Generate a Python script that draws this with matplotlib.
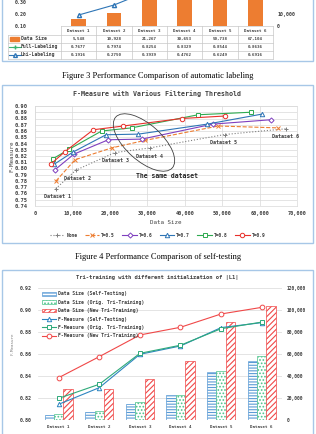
import matplotlib
matplotlib.use('Agg')
import matplotlib.pyplot as plt
from matplotlib.patches import Rectangle, Ellipse, Patch
from matplotlib.lines import Line2D
from matplotlib.ticker import FuncFormatter

plt.rcParams['font.family'] = ['DejaVu Sans Mono']
plt.rcParams['font.weight'] = 'bold'
plt.rcParams['hatch.linewidth'] = 0.8

# ---------------- data ----------------
datasets = ["Dataset 1", "Dataset 2", "Dataset 3", "Dataset 4", "Dataset 5", "Dataset 6"]

# Figure 3 (automatic labeling)
data_size = [5548, 10928, 21267, 30653, 50738, 67104]
full_labeling = [0.7677, 0.7974, 0.8254, 0.8329, 0.8544, 0.8636]
uni_labeling = [0.1916, 0.2750, 0.3939, 0.4762, 0.6249, 0.6916]

# Figure 4 (filtering threshold)
thr_labels = ["None", "T=0.5", "T=0.6", "T=0.7", "T=0.8", "T=0.9"]
none_x = [5548, 10928, 21267, 30653, 50738, 67104]
none_y = [0.7677, 0.7974, 0.8254, 0.8329, 0.8544, 0.8636]
t05_x = [5600, 10700, 20500, 29400, 49000, 64800]
t05_y = [0.780, 0.814, 0.833, 0.845, 0.868, 0.865]
t06_x = [5340, 10400, 19600, 28500, 47500, 63000]
t06_y = [0.798, 0.823, 0.846, 0.847, 0.871, 0.878]
t07_x = [5170, 10070, 18970, 27600, 46000, 60600]
t07_y = [0.807, 0.826, 0.854, 0.855, 0.871, 0.887]
t08_x = [4900, 9170, 17800, 25800, 43600, 57600]
t08_y = [0.816, 0.831, 0.860, 0.865, 0.886, 0.890]
t09_x = [4200, 8000, 15580, 23600, 39200, 50800]
t09_y = [0.807, 0.827, 0.862, 0.868, 0.880, 0.884]

# Figure 5 (tri-training)
size_self = [4600, 7700, 14500, 23000, 43600, 53200]
size_orig = [5500, 8600, 16000, 23000, 44500, 57800]
size_new = [28300, 28300, 36900, 53700, 89400, 103900]
f_self = [0.8143, 0.8294, 0.8597, 0.8673, 0.8840, 0.8885]
f_orig = [0.8197, 0.8325, 0.8606, 0.8680, 0.8830, 0.8890]
f_new = [0.8385, 0.8576, 0.8773, 0.8843, 0.8964, 0.9024]

# ---------------- figure ----------------
W, H = 316, 434
fig = plt.figure(figsize=(W / 100, H / 100), dpi=100)


def px_axes(x0, y0, x1, y1):
    return fig.add_axes([x0 / W, 1 - y1 / H, (x1 - x0) / W, (y1 - y0) / H])


thousands = FuncFormatter(lambda v, p: f"{int(round(v)):,}")
two_dec = FuncFormatter(lambda v, p: f"{v:.2f}")
BOX = '#A7C7E7'
GRID = '#D9D9D9'

# background layer: boxes and captions
bg = px_axes(0, 0, W, H)
bg.set_xlim(0, W)
bg.set_ylim(H, 0)
bg.axis('off')
bg.set_zorder(-10)
for (x, y, w, h) in [(2, -3, 311, 64), (2, 85, 311, 158), (2, 270, 311, 170)]:
    bg.add_patch(Rectangle((x, y), w, h, fill=False, ec=BOX, lw=1.0))
bg.text(158, 76, "Figure 3 Performance Comparison of automatic labeling",
        family='Liberation Serif', weight='normal', size=6, ha='center', va='center')
bg.text(158, 257, "Figure 4 Performance Comparison of self-testing",
        family='Liberation Serif', weight='normal', size=6, ha='center', va='center')

# ---------------- panel 1 (top, cropped) ----------------
ORANGE = '#ED7D31'
ax1 = px_axes(61, 0, 273, 26)
ax1r = ax1.twinx()
xs = list(range(len(datasets)))
ax1r.bar(xs, data_size, width=0.42, color=ORANGE)
ax1r.set_ylim(0, 21667)
ax1.set_ylim(0.10, 0.3167)
ax1.set_xlim(-0.5, 5.5)
ax1.plot(xs, full_labeling, color='#3CB371', marker='+', ms=3, lw=0.8)
ax1.plot(xs, uni_labeling, color='#2E75B6', marker='^', ms=3, mfc='white', lw=0.8)
ax1.set_zorder(ax1r.get_zorder() + 1)
ax1.patch.set_visible(False)
ax1.set_yticks([0.10, 0.20, 0.30])
ax1.yaxis.set_major_formatter(two_dec)
ax1r.set_yticks([0, 10000])
ax1r.yaxis.set_major_formatter(thousands)
ax1.set_xticks(xs, datasets)
ax1.tick_params(axis='y', length=0, pad=24.5, labelsize=3.6, colors='#404040')
ax1.tick_params(axis='x', length=0, pad=2.2, labelsize=3.0, colors='#404040')
ax1r.tick_params(axis='y', length=0, pad=3, labelsize=3.6, colors='#404040')
for a in (ax1, ax1r):
    for s in a.spines.values():
        s.set_visible(False)

# ---------------- panel 2 (middle) ----------------
ax2 = px_axes(35, 106, 297, 206)
series2 = [
    (none_x, none_y, '#7F7F7F', ':', '+', 3.5),
    (t05_x, t05_y, '#ED7D31', '--', 'x', 3.0),
    (t06_x, t06_y, '#7F3FBF', '-', 'D', 2.6),
    (t07_x, t07_y, '#2E75B6', '-', '^', 3.2),
    (t08_x, t08_y, '#2EAA50', '-', 's', 3.0),
    (t09_x, t09_y, '#E8302A', '-', 'o', 3.2),
]
for (sx, sy, c, ls, mk, ms), lab in zip(series2, thr_labels):
    ax2.plot(sx, sy, color=c, ls=ls, marker=mk, ms=ms, mfc='white', mec=c,
             mew=0.7, lw=0.8, label=lab)
ax2.set_xlim(0, 70000)
ax2.set_ylim(0.74, 0.90)
ax2.set_yticks([0.74 + 0.01 * i for i in range(17)])
ax2.set_xticks([10000 * i for i in range(8)])
ax2.yaxis.set_major_formatter(two_dec)
ax2.xaxis.set_major_formatter(thousands)
ax2.grid(color=GRID, lw=0.5)
ax2.set_axisbelow(True)
for s in ax2.spines.values():
    s.set_color(GRID)
    s.set_linewidth(0.5)
ax2.tick_params(axis='y', length=0, pad=5, labelsize=3.9, colors='#404040')
ax2.tick_params(axis='x', length=0, pad=3.6, labelsize=3.8, colors='#404040')
ax2.set_xlabel("Data Size", fontsize=4.2, color='#404040')
ax2.xaxis.set_label_coords(0.4975, -0.16)
ax2.xaxis.label.set_va('center')
ax2.set_ylabel("F-Measure", fontsize=4.2, color='#404040')
ax2.yaxis.set_label_coords(-0.088, 0.5)
ax2.yaxis.label.set_va('center')
ax2.legend(ncol=6, loc='center', bbox_to_anchor=(0.4676, -0.29), frameon=False,
           fontsize=3.3, handlelength=3.2, columnspacing=1.6, handletextpad=0.4,
           labelcolor='#404040')

# ---------------- panel 3 (bottom) ----------------
ax3 = px_axes(38.4, 288, 282, 420)
ax3r = ax3.twinx()
bw = 0.23
b1 = ax3r.bar([x - bw for x in xs], size_self, width=bw, facecolor='white',
              edgecolor='#5B9BD5', hatch='------', lw=0.5,
              label="Data Size (Self-Testing)")
b2 = ax3r.bar(xs, size_orig, width=bw, facecolor='white', edgecolor='#4CC38A',
              hatch='.....', lw=0.5, label="Data Size (Orig. Tri-Training)")
b3 = ax3r.bar([x + bw for x in xs], size_new, width=bw, facecolor='white',
              edgecolor='#F04848', hatch='//////', lw=0.5,
              label="Data Size (New Tri-Training)")
l1, = ax3.plot(xs, f_self, color='#2E86C1', marker='^', ms=3.2, mfc='white',
               mew=0.7, lw=0.8, label="F-Measure (Self-Testing)")
l2, = ax3.plot(xs, f_orig, color='#2EAA7A', marker='s', ms=3.0, mfc='white',
               mew=0.7, lw=0.8, label="F-Measure (Orig. Tri-Training)")
l3, = ax3.plot(xs, f_new, color='#F04848', marker='o', ms=3.4, mfc='white',
               mew=0.7, lw=0.8, label="F-Measure (New Tri-Training)")
ax3.set_zorder(ax3r.get_zorder() + 1)
ax3.patch.set_visible(False)
ax3.set_xlim(-0.5, 5.5)
ax3.set_ylim(0.80, 0.92)
ax3r.set_ylim(0, 120000)
ax3.set_yticks([0.80 + 0.02 * i for i in range(7)])
ax3.yaxis.set_major_formatter(two_dec)
ax3r.set_yticks([20000 * i for i in range(7)])
ax3r.yaxis.set_major_formatter(thousands)
ax3r.grid(axis='y', color=GRID, lw=0.5)
ax3r.set_axisbelow(True)
ax3.set_xticks(xs, datasets)
for a in (ax3, ax3r):
    for s in a.spines.values():
        s.set_visible(False)
ax3.tick_params(axis='y', length=0, pad=4.5, labelsize=3.6, colors='#404040')
ax3.tick_params(axis='x', length=0, pad=3.6, labelsize=3.0, colors='#404040')
ax3r.tick_params(axis='y', length=0, pad=3.5, labelsize=3.3, colors='#404040')
ax3.set_ylabel("F-Measure", fontsize=3.0, color='#808080')
ax3.yaxis.set_label_coords(-0.105, 0.58)
ax3.yaxis.label.set_va('center')
ax3.legend([b1, b2, b3, l1, l2, l3],
           [b1.get_label(), b2.get_label(), b3.get_label(),
            l1.get_label(), l2.get_label(), l3.get_label()],
           loc='upper left', bbox_to_anchor=(0.0, 1.0), frameon=False,
           fontsize=3.4, handlelength=3.0, handleheight=0.9, labelspacing=0.72,
           handletextpad=0.5, labelcolor='#404040', borderaxespad=0.3)

# ---------------- overlay: table, annotations, titles ----------------
ov = px_axes(0, 0, W, H)
ov.set_xlim(0, W)
ov.set_ylim(H, 0)
ov.axis('off')
ov.patch.set_alpha(0)
ov.set_zorder(30)

TL = '#C8C8C8'
col_w = (273 - 61) / 6
row_lines = [34.5, 42.5, 50.5, 58.5]
ov.plot([61, 273], [26, 26], color=TL, lw=0.5)
for yl in row_lines:
    ov.plot([8, 273], [yl, yl], color=TL, lw=0.5)
ov.plot([8, 8], [34.5, 58.5], color=TL, lw=0.5)
for k in range(7):
    xk = 61 + col_w * k
    ov.plot([xk, xk], [26, 58.5], color=TL, lw=0.5)
row_y = [38.5, 46.5, 54.5]
row_texts = [[f"{v:,}" for v in data_size],
             [f"{v:.4f}" for v in full_labeling],
             [f"{v:.4f}" for v in uni_labeling]]
for ry, vals in zip(row_y, row_texts):
    for k, t in enumerate(vals):
        ov.text(61 + col_w * (k + 0.5), ry, t, ha='center', va='center',
                size=3.0, color='#404040')
ov.add_patch(Rectangle((10, 36.5), 9, 4, color=ORANGE))
ov.plot([9, 21], [46.5, 46.5], color='#3CB371', lw=0.8)
ov.plot([15], [46.5], color='#3CB371', marker='+', ms=3)
ov.plot([9, 21], [54.5, 54.5], color='#2E75B6', lw=0.8)
ov.plot([15], [54.5], color='#2E75B6', marker='^', ms=2.8, mfc='white')
for ry, t in zip(row_y, ["Data Size", "Full-Labeling", "Uni-Labeling"]):
    ov.text(21, ry, t, ha='left', va='center', size=3.4, color='#404040')

ov.text(157, 94, "F-Measure with Various Filtering Threshold", ha='center',
        va='center', size=4.8, color='#404040')
ov.text(157.5, 277, "Tri-training with different initialization of |L1|",
        ha='center', va='center', size=4.0, color='#404040')

for (tx, ty), lab in zip([(57, 197), (77, 178), (115, 160), (150, 156), (223, 142), (285, 136)],
                         datasets):
    ov.text(tx, ty, lab, ha='center', va='center', size=3.6, color='#404040')
ov.add_patch(Ellipse((144, 142.5), 76, 36, angle=42, fill=False, ec='#404040', lw=0.6))
ov.text(166.5, 176, "The same dataset", ha='center', va='center', size=4.7, color='#262626')

fig.savefig('out.png', dpi=100)
